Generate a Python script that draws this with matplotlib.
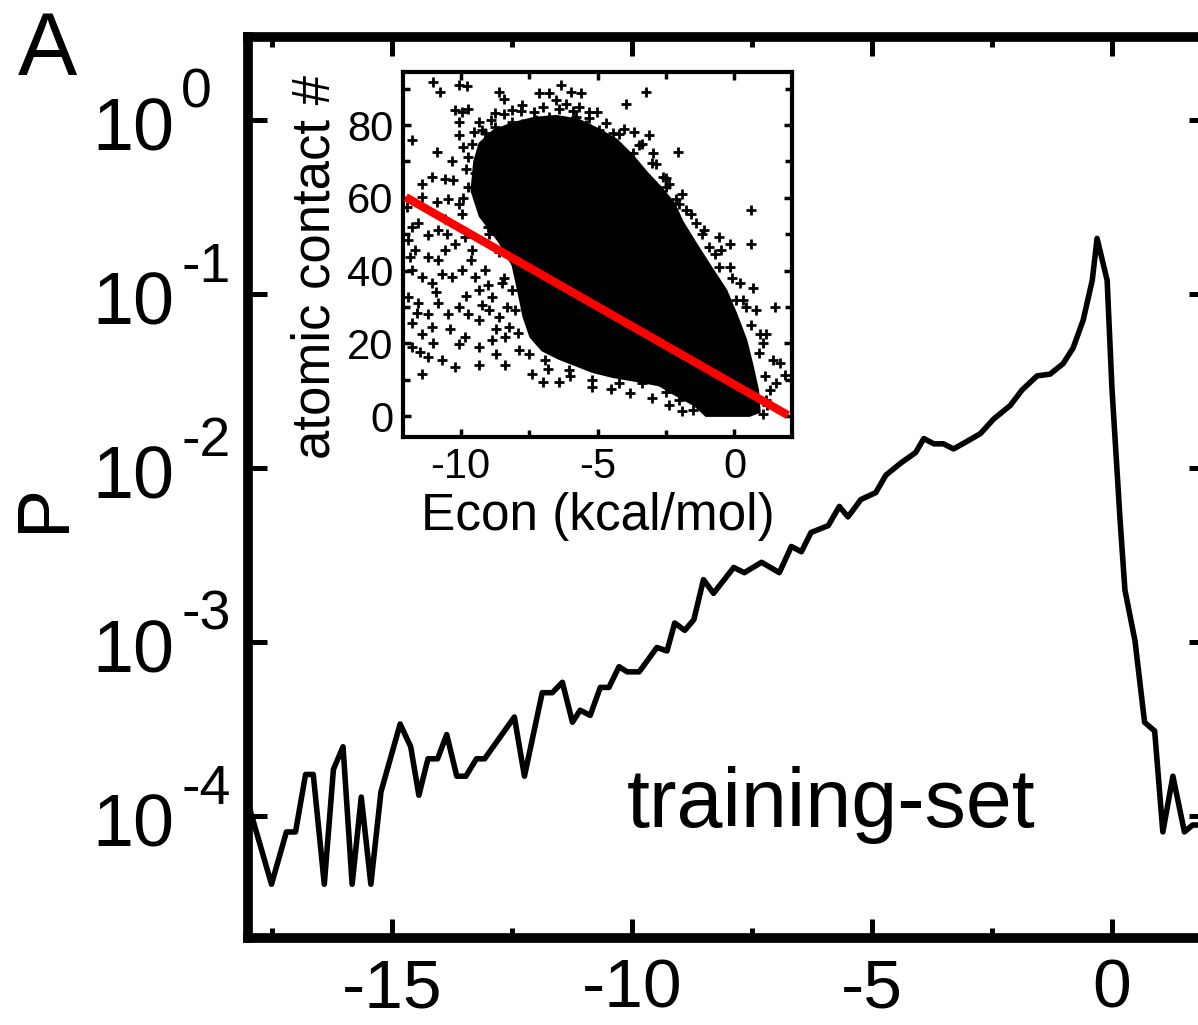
import numpy as np
import matplotlib.pyplot as plt
from matplotlib.ticker import FixedLocator, NullLocator

plt.rcParams['font.family'] = ['Liberation Sans', 'DejaVu Sans']
plt.rcParams['axes.unicode_minus'] = False

# main curve: P(Econ) for the training set
energy = [-17.95, -17.51, -17.20, -17.01, -16.80, -16.64, -16.41, -16.22, -16.02, -15.83,
          -15.64, -15.44, -15.23, -14.83, -14.61, -14.44, -14.25, -14.05, -13.86, -13.65,
          -13.46, -13.24, -13.07, -12.45, -12.24, -11.87, -11.66, -11.45, -11.24, -11.08,
          -10.87, -10.66, -10.48, -10.27, -10.10, -9.85, -9.48, -9.27, -9.11, -8.90,
          -8.71, -8.51, -8.30, -7.88, -7.66, -7.30, -6.93, -6.68, -6.47, -6.27,
          -5.91, -5.68, -5.50, -5.23, -4.92, -4.71, -4.40, -4.09, -3.92, -3.71,
          -3.51, -3.30, -3.05, -2.74, -2.47, -2.12, -1.87, -1.56, -1.29, -1.02,
          -0.81, -0.60, -0.41, -0.31, -0.10, 0.00, 0.17, 0.27, 0.48, 0.68,
          0.89, 1.06, 1.27, 1.51, 1.68, 1.95]
prob = [1.07e-4, 4.07e-5, 8.13e-5, 8.13e-5, 1.74e-4, 1.74e-4, 4.07e-5, 1.86e-4, 2.51e-4, 4.07e-5,
        1.29e-4, 4.07e-5, 1.38e-4, 3.39e-4, 2.51e-4, 1.32e-4, 2.14e-4, 2.14e-4, 2.95e-4, 1.70e-4,
        1.70e-4, 2.14e-4, 2.14e-4, 3.72e-4, 1.70e-4, 5.13e-4, 5.13e-4, 5.89e-4, 3.47e-4, 4.07e-4,
        3.80e-4, 5.50e-4, 5.50e-4, 7.24e-4, 6.76e-4, 6.76e-4, 9.33e-4, 8.91e-4, 1.29e-3, 1.17e-3,
        1.35e-3, 2.29e-3, 1.91e-3, 2.69e-3, 2.51e-3, 2.88e-3, 2.51e-3, 3.55e-3, 3.31e-3, 4.27e-3,
        4.68e-3, 6.03e-3, 5.25e-3, 6.61e-3, 7.24e-3, 9.12e-3, 1.07e-2, 1.23e-2, 1.48e-2, 1.38e-2,
        1.38e-2, 1.29e-2, 1.41e-2, 1.58e-2, 1.91e-2, 2.29e-2, 2.82e-2, 3.39e-2, 3.47e-2, 3.98e-2,
        4.90e-2, 7.08e-2, 0.120, 0.209, 0.120, 2.88e-2, 5.01e-3, 2.00e-3, 1.02e-3, 3.47e-4,
        3.09e-4, 8.13e-5, 1.70e-4, 8.13e-5, 8.91e-5, 8.91e-5]

ytick_vals = [1e0, 1e-1, 1e-2, 1e-3, 1e-4]
ytick_exps = ['0', '-1', '-2', '-3', '-4']
xtick_vals = [-15, -10, -5, 0]
xtick_labels = ['-15', '-10', '-5', '0']

# inset: dense core of the scatter cloud (outline) and the sparser points around it
core_outline = [(-9.5, 70.0), (-9.3, 75.0), (-8.8, 78.5), (-8.1, 80.5), (-7.3, 82.0),
                (-6.5, 82.5), (-5.7, 81.5), (-5.0, 79.0), (-4.3, 76.0), (-3.7, 71.5),
                (-3.2, 67.0), (-2.7, 63.0), (-2.2, 58.5), (-1.9, 53.5), (-1.45, 48.0),
                (-0.9, 41.5), (-0.3, 34.6), (0.06, 28.2), (0.43, 20.9), (0.67, 13.6),
                (0.86, 7.1), (0.92, 1.2), (0.55, 0.1), (-1.04, 0.1), (-1.46, 3.0),
                (-2.14, 5.8), (-2.75, 8.5), (-3.60, 9.7), (-4.45, 10.8), (-5.19, 12.2),
                (-5.80, 14.0), (-6.41, 15.8), (-7.02, 18.1), (-7.45, 21.8), (-7.7, 27.3),
                (-7.9, 34.6), (-8.1, 41.5), (-8.6, 48.0), (-9.3, 55.0), (-9.6, 62.0)]

contact_points = [
    (-10.99, 91.9), (-10.74, 89.1), (-10.07, 91.0), (-9.77, 90.7), (-8.61, 89.1), (-8.42, 87.3),
    (-10.20, 84.1), (-9.95, 83.6), (-9.71, 84.5), (-10.07, 80.9), (-10.07, 77.2), (-10.87, 72.6),
    (-11.78, 75.8), (-9.34, 80.9), (-9.52, 78.1), (-7.75, 85.4), (-7.33, 83.6), (-7.14, 88.7),
    (-6.78, 88.7), (-6.53, 86.8), (-6.35, 91.0), (-5.98, 89.1), (-5.62, 88.7), (-5.31, 83.6),
    (-5.01, 83.6), (-4.95, 78.6), (-3.97, 85.9), (-4.03, 79.0), (-3.66, 78.1), (-3.23, 89.1),
    (-3.11, 77.2), (-3.36, 74.9), (-2.99, 72.2), (-2.07, 72.6), (-2.62, 65.7), (-2.50, 63.0),
    (-2.14, 59.8), (-1.77, 56.6), (-1.10, 51.1), (-0.55, 49.3), (-0.18, 47.4), (-0.49, 45.6),
    (0.61, 56.6), (0.61, 47.4), (-0.55, 41.1), (0.67, 35.1), (0.06, 31.9), (0.43, 30.0),
    (1.47, 30.0), (0.92, 22.7), (1.04, 20.0), (1.65, 14.5), (1.83, 11.3), (1.53, 9.0),
    (1.28, 7.1), (1.16, 4.4), (1.04, 0.7), (0.31, 14.5), (0.55, 9.0),
    (-11.42, 63.9), (-11.05, 65.7), (-10.56, 65.3), (-10.26, 64.8), (-10.87, 58.9), (-10.44, 59.8),
    (-10.07, 58.4), (-9.95, 55.7), (-11.97, 57.5), (-11.78, 52.0), (-11.54, 53.0), (-11.90, 48.4),
    (-11.66, 45.6), (-11.17, 43.8), (-10.81, 42.9), (-10.56, 45.6), (-10.20, 47.4), (-9.83, 49.3),
    (-9.59, 45.6), (-11.78, 40.1), (-11.42, 38.3), (-11.05, 36.5), (-10.68, 39.2), (-10.32, 38.3),
    (-9.95, 40.1), (-9.46, 38.3), (-9.10, 40.1), (-9.34, 34.6), (-8.85, 32.8), (-8.49, 36.5),
    (-8.12, 34.6), (-11.90, 32.8), (-11.54, 31.0), (-11.17, 28.2), (-10.81, 31.0), (-10.44, 28.2),
    (-10.07, 30.0), (-9.71, 28.2), (-9.34, 26.4), (-8.97, 29.1), (-8.61, 27.3), (-8.24, 24.6),
    (-11.78, 25.5), (-11.42, 22.7), (-11.05, 24.6), (-11.78, 19.0), (-11.48, 17.7), (-11.17, 16.3),
    (-10.68, 15.4), (-11.42, 11.7), (-10.07, 19.9), (-9.83, 21.8), (-9.34, 19.0), (-8.85, 20.9),
    (-8.36, 21.8), (-9.34, 14.0), (-8.36, 14.0), (-7.87, 18.1), (-7.39, 11.7), (-6.90, 15.4),
    (-6.41, 9.4), (-6.04, 12.6), (-5.19, 9.9), (-4.21, 9.0), (-3.36, 9.0), (-2.50, 6.7),
    (-2.01, 4.4), (-1.53, 1.7), (-10.81, 51.1), (-8.97, 50.2), (-10.56, 54.3), (-11.17, 49.7),
    (-9.71, 63.0), (-9.22, 61.2), (-8.73, 58.0), (-8.24, 53.0), (-8.12, 45.6), (-8.00, 29.1),
    (-11.42, 60.2), (-11.84, 43.8),
    (-9.10, 77.7), (-8.73, 79.5), (-8.12, 80.9), (-7.75, 80.4), (-7.26, 81.3), (-6.78, 82.2),
    (-6.29, 80.9), (-5.80, 82.2), (-5.43, 79.9), (-4.45, 77.7), (-4.45, 74.0), (-3.72, 72.2),
    (-6.16, 85.9), (-5.68, 85.0), (-8.12, 84.1), (-8.73, 83.2), (-9.22, 78.6), (-9.59, 74.9),
    (-9.71, 71.2), (-9.46, 66.7), (-2.87, 69.4), (-2.38, 63.9), (-2.01, 58.4), (-1.40, 53.0),
    (-0.92, 46.5), (-0.18, 41.1), (0.19, 36.5), (0.80, 29.1), (1.16, 22.7), (1.41, 15.4),
    (-0.06, 1.6), (-7.39, 41.9), (-7.26, 31.0),
    (-8.9, 81.5), (-8.4, 83.0), (-7.8, 84.0), (-7.0, 85.0), (-6.4, 84.5), (-5.9, 83.8),
    (-5.3, 82.0), (-4.7, 80.5), (-4.2, 77.5), (-3.5, 74.5), (-3.0, 69.5), (-2.5, 65.5),
    (-1.9, 61.0), (-1.6, 55.5), (-1.2, 50.0), (-0.7, 44.5), (-0.1, 38.0), (0.3, 32.0),
    (0.6, 25.0), (0.9, 17.5), (1.1, 11.0), (1.2, 3.0), (-9.8, 68.0), (-9.9, 60.0),
    (-9.0, 52.0), (-8.6, 45.0), (-8.4, 38.0), (-8.3, 30.0), (-7.9, 23.0), (-7.5, 17.0),
    (-6.8, 13.0), (-6.0, 11.0), (-5.2, 8.0), (-4.5, 7.5), (-3.8, 6.5), (-3.0, 5.0),
    (-2.4, 3.0), (-1.9, 1.5), (-10.3, 70.0), (-9.9, 74.0), (-10.5, 50.0), (-9.6, 43.0),
    (-9.0, 36.0), (-8.7, 24.0), (-9.8, 33.0), (-10.9, 34.0), (-11.6, 28.5), (-10.4, 24.0),
    (-9.2, 30.5), (-11.0, 20.0), (-10.2, 13.5), (-8.7, 17.0), (-7.0, 9.5)]

fit_x = [-12.0, 1.95]
fit_y = [60.2, 0.3]

fig = plt.figure(figsize=(11.98, 10.25), dpi=100)

# ---- main panel ----
ax = fig.add_axes([0.207, 0.0849, 0.8013, 0.879])
ax.plot(energy, prob, color='black', lw=4)
ax.set_yscale('log')
ax.set_xlim(-18, 2)
ax.set_ylim(2e-5, 3)
ax.yaxis.set_major_locator(FixedLocator(ytick_vals))
ax.yaxis.set_minor_locator(NullLocator())
ax.xaxis.set_major_locator(FixedLocator(xtick_vals))
ax.xaxis.set_minor_locator(FixedLocator([-17.5, -12.5, -7.5, -2.5]))
ax.set_xticklabels(xtick_labels)
ax.tick_params(which='both', direction='in', top=True, right=True, labelleft=False)
ax.tick_params(which='major', length=14, width=3.6, labelsize=50, pad=14)
ax.tick_params(which='minor', length=7, width=3.6)
for s in ax.spines.values():
    s.set_linewidth(7)

for v, e in zip(ytick_vals, ytick_exps):
    ax.annotate('10', xy=(0, v), xycoords=('axes fraction', 'data'), xytext=(-53, -8),
                textcoords='offset points', ha='right', va='center', fontsize=53)
    ax.annotate(e, xy=(0, v), xycoords=('axes fraction', 'data'), xytext=(-48, 19),
                textcoords='offset points', ha='left', va='center', fontsize=40)

ax.text(-10.1, 8.7e-5, 'training-set', fontsize=59.5, ha='left', va='baseline')
fig.text(45 / 1198, 1 - 508 / 1025, 'P', rotation=90, fontsize=53, ha='center', va='center')
fig.text(18 / 1198, 1 - 75 / 1025, 'A', fontsize=64, ha='left', va='baseline')

# ---- inset ----
ins = fig.add_axes([0.3364, 0.5737, 0.3247, 0.3561])
core = np.array(core_outline)
ins.fill(core[:, 0], core[:, 1], color='black', lw=1.5, ec='black', zorder=2)
pts = np.array(contact_points)
ins.plot(pts[:, 0], pts[:, 1], '+', color='black', ms=6.5, mew=2, zorder=2)
ins.plot(fit_x, fit_y, color='#ff0000', lw=6, solid_capstyle='butt', zorder=3)
ins.set_xlim(-12.1, 2.1)
ins.set_ylim(-5.7, 94.6)
ins.xaxis.set_major_locator(FixedLocator([-10, -5, 0]))
ins.xaxis.set_minor_locator(FixedLocator([-7.5, -2.5]))
ins.yaxis.set_major_locator(FixedLocator([0, 20, 40, 60, 80]))
ins.yaxis.set_minor_locator(FixedLocator([10, 30, 50, 70, 90]))
ins.tick_params(which='both', direction='in', top=True, right=True, width=2.5)
ins.tick_params(which='major', length=6, labelsize=30, pad=7)
ins.tick_params(which='minor', length=5)
for s in ins.spines.values():
    s.set_linewidth(3)
ins.text(0.5, -(530 - 437) / 365, 'Econ (kcal/mol)', transform=ins.transAxes,
         fontsize=37, ha='center', va='baseline')
ins.text(-(403 - 315) / 389, (437 - 267) / 365, 'atomic contact #', transform=ins.transAxes,
         fontsize=38, rotation=90, ha='center', va='center')

fig.savefig('out.png', dpi=100)
